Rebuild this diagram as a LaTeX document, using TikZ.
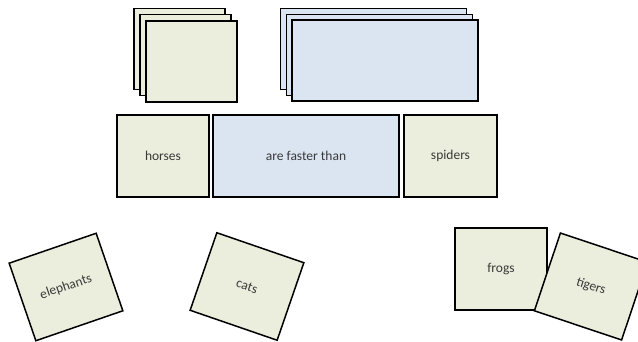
\documentclass[tikz,border=0pt]{standalone}
\usepackage{fontspec}
\setmainfont{Carlito}
\definecolor{cardgreen}{HTML}{EBEEDC}
\definecolor{cardblue}{HTML}{DBE5F1}
\definecolor{txt}{HTML}{3A3A3A}
\begin{document}
\begin{tikzpicture}[x=1pt,y=-1pt,
  card/.style={draw=black,line width=1.5pt,fill=cardgreen,minimum width=92pt,minimum height=82pt,inner sep=0pt,text=txt,font=\fontsize{13.5}{16}\selectfont,anchor=center},
  wide/.style={card,fill=cardblue,minimum width=186pt}]
\useasboundingbox (0,0) rectangle (638,342);
% left stack
\node[card,minimum width=91pt,minimum height=81pt] (sa1) at (179.5,49) {};
\node[card,minimum width=91pt,minimum height=81pt] (sa2) at (185.5,55) {};
\node[card,minimum width=91pt,minimum height=81pt] (sa3) at (191.5,61.5) {};
% right stack
\node[wide,minimum height=81pt] (sb1) at (373.5,49) {};
\node[wide,minimum height=81pt] (sb2) at (379.5,55) {};
\node[wide,minimum height=81pt] (sb3) at (385,60.5) {};
% middle row
\node[card] (horses) at (163,156) {horses};
\node[wide] (faster) at (306,156) {are faster than};
\node[card,minimum width=93pt] (spiders) at (450.5,156) {spiders};
% bottom row
\node[card,rotate=19] (elephants) at (66,287) {elephants};
\node[card,rotate=-19] (cats) at (247,286.5) {cats};
\node[card] (frogs) at (501,269) {\raisebox{-3pt}{frogs}};
\node[card,rotate=-18.5] (tigers) at (591,286.5) {tigers};
\end{tikzpicture}
\end{document}
